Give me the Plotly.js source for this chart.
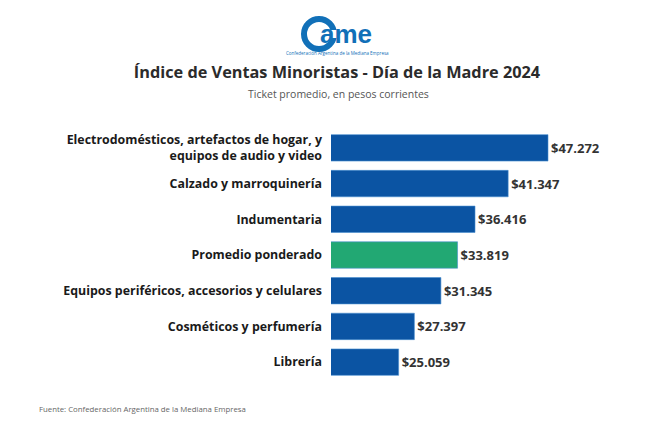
<!DOCTYPE html>
<html><head><meta charset="utf-8">
<script src="https://cdn.plot.ly/plotly-3.0.1.min.js"></script>
<style>body{margin:0;background:#fff}#c{width:666px;height:428px}</style>
</head><body><div id="c"></div>
<script>
const categories = [
  "Electrodomésticos, artefactos de hogar, y<br>equipos de audio y video",
  "Calzado y marroquinería",
  "Indumentaria",
  "Promedio ponderado",
  "Equipos periféricos, accesorios y celulares",
  "Cosméticos y perfumería",
  "Librería"
];
const values = [47272, 41347, 36416, 33819, 31345, 27397, 25059];
const highlight = "Promedio ponderado";
const valueLabels = values.map(v => "$" + v.toLocaleString("de-DE"));

const blue = "#0b54a3", green = "#22a873";
const colors = categories.map(c => c === highlight ? green : blue);
const font = "Open Sans, Noto Sans, sans-serif";

const trace = {
  type: "bar", orientation: "h",
  y: categories, x: values,
  marker: {color: colors, line: {color: "#4a8fd0", width: 0.6}},
  text: valueLabels, textposition: "outside", cliponaxis: false,
  textfont: {family: font, size: 13, color: "#333", weight: 700},
  hoverinfo: "skip"
};

function px(x){ return (x - 331) / (666 - 331 - 70); }
function py(y){ return (428 - 48 - y) / (428 - 130 - 48); }

const layout = {
  width: 666, height: 428,
  margin: {l: 331, r: 70, t: 130, b: 48},
  paper_bgcolor: "#fff", plot_bgcolor: "#fff",
  showlegend: false,
  bargap: 0.26,
  xaxis: {range: [15000, 54410], visible: false, fixedrange: true},
  yaxis: {autorange: "reversed", showgrid: false, zeroline: false, showline: false,
          ticks: "", ticklabelstandoff: 8,
          tickfont: {family: font, size: 12.4, color: "#1a1a1a", weight: 700}},
  title: {text: "Índice de Ventas Minoristas - Día de la Madre 2024",
          font: {family: font, size: 16.3, color: "#2b2b2b", weight: 700},
          x: 0.506, xanchor: "center", y: 0.832, yanchor: "middle"},
  shapes: [
    {type: "circle", xref: "paper", yref: "paper", x0: px(304), x1: px(334), y0: py(49), y1: py(19),
     line: {color: "#1170b8", width: 6}, fillcolor: "rgba(0,0,0,0)"},
    {type: "rect", xref: "paper", yref: "paper", x0: px(323), x1: px(338), y0: py(38), y1: py(30),
     line: {width: 0}, fillcolor: "#fff"}
  ],
  annotations: [
    {text: "Ticket promedio, en pesos corrientes", xref: "paper", yref: "paper",
     x: px(338), y: py(94), showarrow: false, xanchor: "center", yanchor: "middle",
     font: {family: font, size: 10.5, color: "#555"}},
    {text: "Fuente: Confederación Argentina de la Mediana Empresa", xref: "paper", yref: "paper",
     x: px(37), y: py(409), showarrow: false, xanchor: "left", yanchor: "middle",
     font: {family: font, size: 7.8, color: "#666"}},
    {text: "<b>ame</b>", xref: "paper", yref: "paper", x: px(346), y: py(34), showarrow: false,
     xanchor: "center", yanchor: "middle", font: {family: "Liberation Sans, Arial", size: 26, color: "#1170b8"}},
    {text: "Confederación Argentina de la Mediana Empresa", xref: "paper", yref: "paper",
     x: px(337), y: py(53), showarrow: false, xanchor: "center", yanchor: "middle",
     font: {family: font, size: 4.5, color: "#1170b8"}}
  ]
};

Plotly.newPlot("c", [trace], layout, {displayModeBar: false, staticPlot: true});
</script></body></html>
